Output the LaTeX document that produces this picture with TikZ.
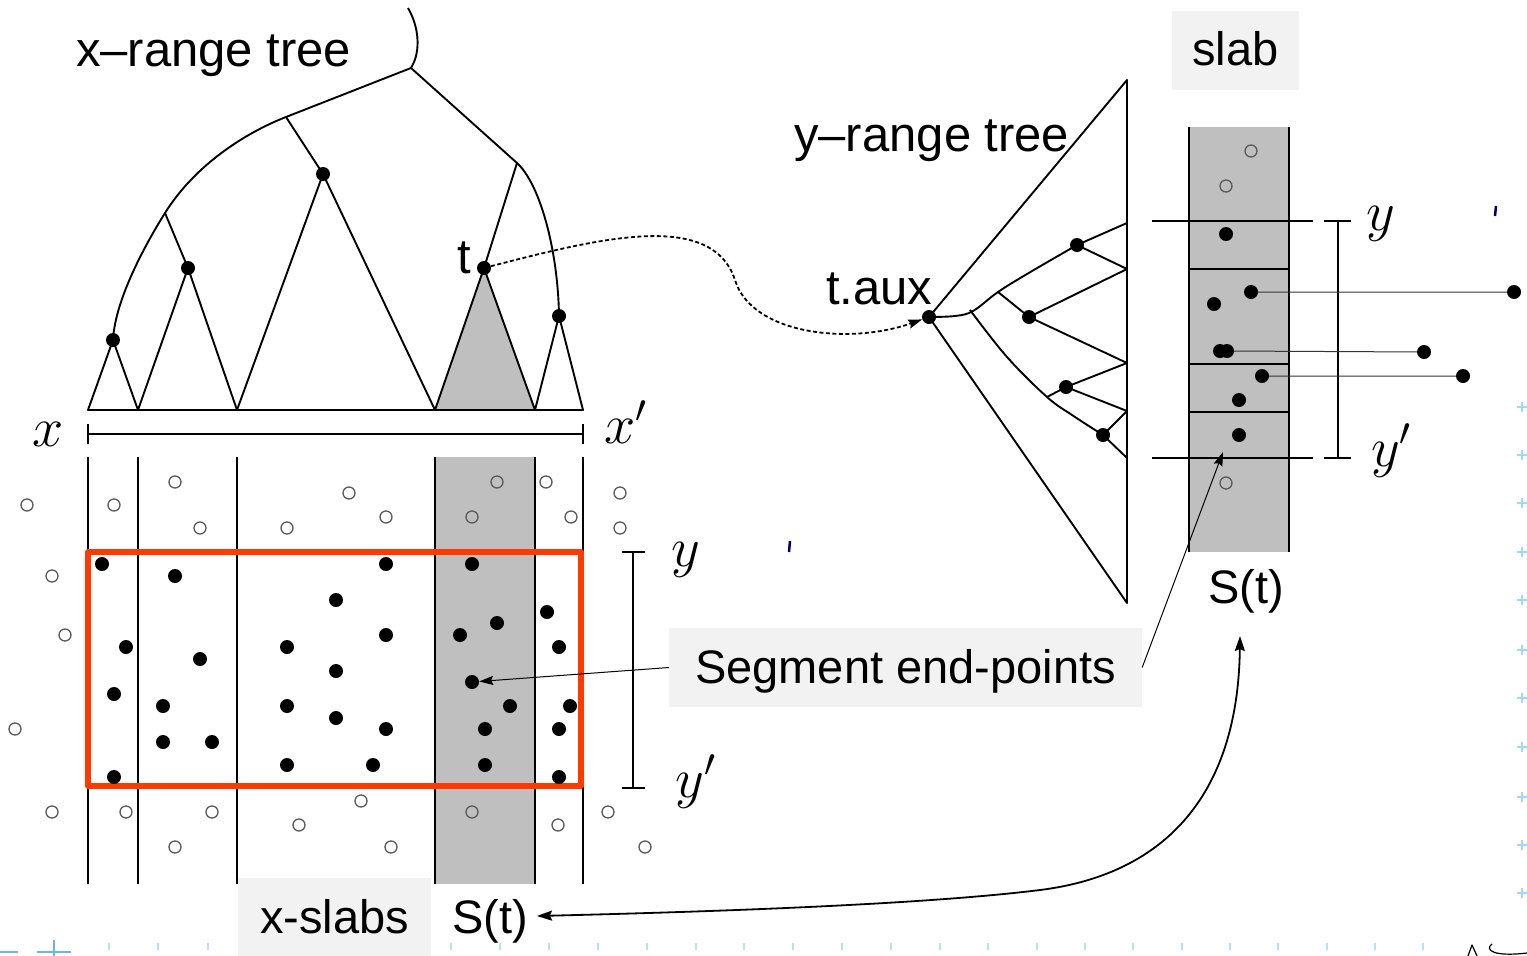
\RequirePackage{fix-cm}
\documentclass[tikz,border=0pt]{standalone}
\usepackage{fontspec}
\setmainfont{Liberation Sans}
\usetikzlibrary{arrows.meta,calc}

\definecolor{slabgray}{RGB}{191,191,191}
\definecolor{boxgray}{RGB}{242,242,242}
\definecolor{rangered}{RGB}{255,58,0}
\definecolor{guideblue}{RGB}{120,200,240}
\definecolor{holegray}{RGB}{90,90,90}

\begin{document}
\begin{tikzpicture}[x=1pt,y=-1pt,line join=round,
  tree/.style={line width=1.9pt},
  slabline/.style={line width=1.6pt},
  bracketline/.style={line width=1.5pt},
  thinlink/.style={line width=1pt,draw=black!80},
  dot/.style={circle,fill=black,inner sep=0pt,minimum size=14pt},
  hole/.style={circle,draw=holegray,line width=1.3pt,inner sep=0pt,minimum size=12pt},
  treelbl/.style={font=\fontsize{49}{58}\selectfont,inner sep=0pt},
  stlbl/.style={font=\fontsize{47}{56}\selectfont,inner sep=0pt},
  mathlbl/.style={font=\fontsize{56}{64}\selectfont,inner sep=0pt},
  tagbox/.style={fill=boxgray,inner sep=0pt,minimum height=79pt,text height=38pt,text depth=7pt,font=\fontsize{47}{56}\selectfont},
  tip/.style={-{Stealth[length=14pt,width=9pt,inset=2pt]}},
  dbltip/.style={{Stealth[length=15pt,width=10pt,inset=2pt]}-{Stealth[length=15pt,width=10pt,inset=2pt]}},
  dotted link/.style={line width=1.8pt,dash pattern=on 4pt off 2.5pt}
]
\useasboundingbox (0,0) rectangle (1527,956);

% ---------- editor guide marks ----------
\foreach \yy in {407,455,503,552,600,650,698,747,797,845,893}
  \draw[guideblue!70,line width=1.5pt] (1517,\yy) -- (1527,\yy) (1522,\yy-5) -- (1522,\yy+5);
\foreach \xx in {109,158,208,451,500,549,598,647,696,744,793,842,891,940,988,1037,1085,1133,1182,1230,1278,1327,1375,1423}
  \draw[guideblue!55,line width=1.2pt] (\xx,943) -- (\xx,950);
\draw[guideblue!90!blue,line width=2pt] (0,952) -- (18,952) (37,952) -- (71,952) (54,940) -- (54,956);
\draw[line width=2.5pt,blue!40!black] (790,541) -- (789,552);
\draw[line width=2.5pt,blue!40!black] (1496,206) -- (1495,216);
\draw[line width=1.2pt] (1468,956) -- (1472,945) -- (1477,956) (1492,944) .. controls (1484,950) and (1494,957) .. (1527,953);

% ---------- x-range tree ----------
\coordinate (stemtop) at (408,8);
\coordinate (root) at (411,68);
\coordinate (la) at (286,117);
\coordinate (lb) at (165,213);
\coordinate (ra) at (517,163);
\coordinate (b0) at (88,410);
\coordinate (b1) at (138,410);
\coordinate (b2) at (237,410);
\coordinate (b3) at (435,410);
\coordinate (b4) at (535,410);
\coordinate (b5) at (583,410);
\coordinate (v1) at (113,340);
\coordinate (v2) at (188,268);
\coordinate (v3) at (323,174);
\coordinate (vt) at (484,268);
\coordinate (v5) at (559,316);

\fill[slabgray] (vt) -- (b3) -- (b4) -- cycle;
\draw[tree] (stemtop) .. controls (418,25) and (422,50) .. (root);
\draw[tree] (root) -- (la) .. controls (245,133) and (195,165) .. (lb)
            .. controls (145,245) and (115,300) .. (v1);
\draw[tree] (root) -- (ra) .. controls (540,184) and (558,250) .. (v5);
\draw[tree] (lb) -- (v2) (la) -- (v3) (ra) -- (vt);
\draw[tree] (b1) -- (v1) -- (b0) -- (b5) -- (v5) -- (b4) -- (vt) -- (b3)
            -- (v3) -- (b2) -- (v2) -- (b1);
\foreach \v in {v1,v2,v3,vt,v5} \node[dot] (d\v) at (\v) {};

\node[treelbl,anchor=base west] (xrt) at (76,66) {x–range tree};
\node[treelbl,anchor=base east] (tlbl) at (471,273) {t};

% x interval
\draw[bracketline] (88,424) -- (88,444) (88,434) -- (583,434) (583,424) -- (583,444);
\node[mathlbl,anchor=base] (lx) at (48,446) {$x$};
\node[mathlbl,anchor=base] (lxp) at (626,443) {$x'$};

% ---------- x-slabs with points ----------
\fill[slabgray] (435,457) rectangle (535,884);
\foreach \xx in {88,138,237,435,535,583}
  \draw[slabline] (\xx,457) -- (\xx,884);
\draw[rangered,line width=5.5pt] (88,552) rectangle (581,786);

\foreach \p [count=\i] in {(27,505),(114,505),(175,482),(200,528),(287,528),(349,493),(386,517),
  (472,517),(497,482),(546,482),(571,517),(620,493),(620,528),(52,576),(65,635),(15,729),
  (52,812),(126,812),(212,812),(361,801),(299,825),(175,847),(391,847),(472,812),(558,825),
  (608,812),(645,847)}
  \node[hole] (xh\i) at \p {};

\foreach \p [count=\i] in {(102,564),(175,576),(386,564),(472,564),(336,600),(547,612),(497,623),
  (386,635),(460,635),(126,647),(287,647),(559,647),(200,659),(336,671),(114,694),
  (163,706),(287,706),(510,706),(570,706),(336,718),(386,729),(485,729),(559,729),(163,742),
  (212,742),(287,765),(373,765),(485,765),(114,777),(559,777)}
  \node[dot] (xd\i) at \p {};
\node[dot] (segdot) at (472,682) {};

% y interval of the query box
\draw[bracketline] (622,552) -- (645,552) (633,552) -- (633,788) (622,788) -- (645,788);
\node[mathlbl,anchor=base] (ly) at (686,566) {$y$};
\node[mathlbl,anchor=base] (lyp) at (696,797) {$y'$};

% ---------- y-range tree ----------
\node[treelbl,anchor=base west] (yrt) at (794,151) {y–range tree};
\node[treelbl,anchor=base west] (tauxlbl) at (826,304) {t.aux};

\coordinate (ytop) at (1127,80);
\coordinate (ybot) at (1127,603);
\coordinate (ta) at (929,317);
\coordinate (sp) at (973,313);
\coordinate (ub) at (998,292);
\coordinate (lbr) at (1047,397);
\coordinate (r1) at (1127,223);
\coordinate (r2) at (1127,269);
\coordinate (r3) at (1127,363);
\coordinate (r4) at (1127,411);
\coordinate (r5) at (1127,458);
\coordinate (w1) at (1077,245);
\coordinate (w2) at (1029,317);
\coordinate (w3) at (1066,387);
\coordinate (w4) at (1103,435);

\draw[tree] (ta) -- (ytop) -- (ybot) -- cycle;
\draw[tree] plot[smooth,tension=0.6] coordinates {(929,317) (955,316) (973,311) (998,292) (1027,274) (1077,245)};
\draw[tree] plot[smooth,tension=0.6] coordinates {(970,310) (1007,357) (1047,397) (1072,415) (1103,435)};
\draw[tree] (ub) -- (w2) (lbr) -- (w3);
\draw[tree] (r1) -- (w1) -- (r2) -- (w2) -- (r3) -- (w3) -- (r4) -- (w4) -- (r5);
\node[dot] (taux) at (ta) {};
\foreach \v in {w1,w2,w3,w4} \node[dot] (d\v) at (\v) {};

% link from t to its associated structure
\draw[dotted link,tip] (dvt) .. controls (600,238) and (712,210) .. (735,280)
      .. controls (752,335) and (850,345) .. (taux);

% ---------- the slab S(t) sorted by y ----------
\fill[slabgray] (1189,127) rectangle (1289,552);
\draw[slabline] (1189,127) -- (1189,552) (1289,127) -- (1289,552);
\draw[slabline] (1189,269) -- (1289,269) (1189,364) -- (1289,364) (1189,412) -- (1289,412);
\draw[slabline] (1152,221) -- (1313,221) (1152,458) -- (1313,458);
\draw[bracketline] (1324,221) -- (1351,221) (1338,221) -- (1338,458) (1324,458) -- (1351,458);
\node[mathlbl,anchor=base] (ry) at (1381,230) {$y$};
\node[mathlbl,anchor=base] (ryp) at (1391,466) {$y'$};

\node[hole] (sh1) at (1251,151) {};
\node[hole] (sh2) at (1226,186) {};
\node[hole] (sh3) at (1226,483) {};
\node[dot] (s1) at (1226,234) {};
\node[dot] (s2) at (1251,292) {};
\node[dot] (s3) at (1214,304) {};
\node[dot] (s4a) at (1220,351) {};
\node[dot] (s4) at (1227,351) {};
\node[dot] (s5) at (1262,376) {};
\node[dot] (s6) at (1239,400) {};
\node[dot] (s7) at (1239,435) {};
\node[dot] (e1) at (1514,292) {};
\node[dot] (e2) at (1424,352) {};
\node[dot] (e3) at (1463,376) {};
\draw[thinlink] (s2) -- (e1) (s4) -- (e2) (s5) -- (e3);

\node[stlbl,anchor=base] (stR) at (1246,603) {S(t)};

% ---------- captions ----------
\node[tagbox,minimum width=127pt] (slabtag) at (1235.5,50) {slab};
\node[tagbox,minimum width=473pt] (segtag) at (905.5,667.5) {Segment end-points};
\node[tagbox,minimum width=193pt] (xslabtag) at (334.5,917.5) {x-slabs};
\node[stlbl,anchor=base] (stB) at (490,933) {S(t)};

\coordinate (slabpt) at (1223,452);
\draw[line width=1pt,tip] (segtag.west) -- (segdot);
\draw[line width=1pt,tip] (segtag.east) -- (slabpt);

\coordinate (stBend) at (537,916);
\coordinate (stRend) at (1240,636);
\draw[line width=1.8pt,dbltip] (stBend) .. controls (700,912) and (920,905) .. (1040,890)
      .. controls (1160,875) and (1238,800) .. (stRend);
\end{tikzpicture}
\end{document}
